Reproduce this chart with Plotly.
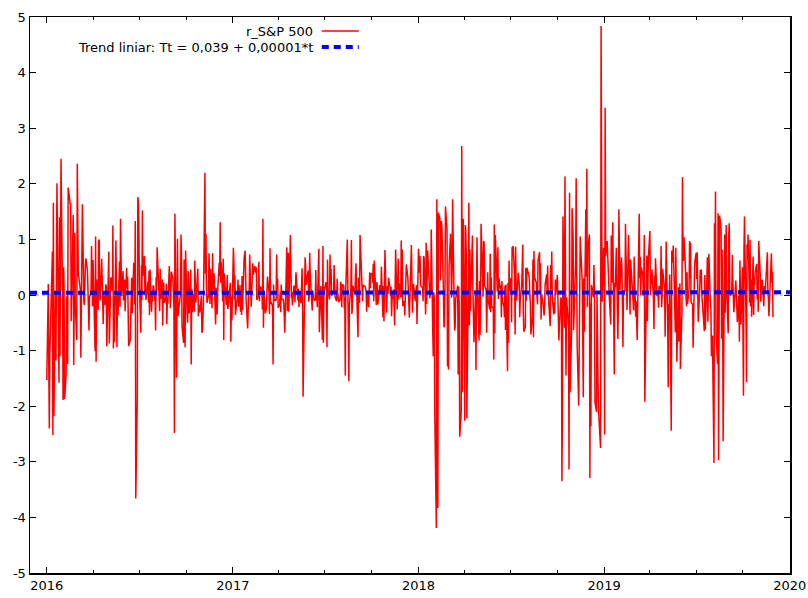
import numpy as np
import pandas as pd
import plotly.graph_objects as go

# ---------------- data (daily log-returns of S&P 500, %) ----------------
months = pd.date_range("2016-01-01", "2019-11-01", freq="MS")

r_2016 = [
    [-1.53, 0.20, -1.32, -2.40, -1.09, 0.09, 0.78, -2.52, 1.66, -2.18, 0.05, -1.18, 0.52, 2.01, -1.58, 1.40, -1.10, 0.55, 2.45],
    [-0.04, -1.89, 0.50, 0.15, -1.87, -1.43, -0.07, -0.02, -1.24, 1.93, 1.64, 1.64, -0.47, 0.00, 1.44, -1.26, 0.44, 1.12, -0.19, -0.81],
    [2.36, 0.41, 0.35, 0.33, 0.09, -1.13, 0.50, 0.02, 1.63, -0.13, -0.18, 0.56, 0.66, 0.44, 0.10, -0.09, -0.64, -0.04, 0.05, 0.88, 0.44, -0.20],
    [0.63, -0.32, -1.01, 1.05, -1.20, 0.28, -0.27, 0.97, 1.00, 0.02, -0.10, 0.65, 0.31, 0.08, -0.52, 0.00, -0.18, 0.19, 0.16, -0.92, -0.51],
    [0.78, -0.87, -0.59, -0.02, 0.32, 0.08, 1.25, -0.96, -0.02, -0.85, 0.98, -0.94, 0.02, -0.37, 0.60, -0.21, 1.37, 0.70, -0.02, 0.43, -0.10],
    [0.11, 0.28, -0.29, 0.49, 0.13, 0.33, -0.17, -0.92, -0.81, -0.18, -0.18, 0.31, -0.33, 0.58, 0.27, -0.17, 1.33, -3.66, -1.83, 1.76, 1.69, 1.35],
    [0.19, -0.68, 0.53, -0.09, 1.52, 0.34, 0.70, 0.01, 0.53, -0.09, 0.24, -0.14, 0.43, -0.36, 0.46, -0.30, 0.03, -0.12, 0.16, 0.16],
    [-0.13, -0.64, 0.32, 0.02, 0.86, -0.09, 0.04, -0.29, 0.47, -0.08, 0.28, -0.55, 0.19, 0.22, -0.14, -0.06, 0.20, -0.52, -0.14, -0.16, 0.52, -0.20, -0.24],
    [0.00, 0.42, 0.30, -0.01, -0.22, -2.48, 1.46, -1.49, -0.06, 1.01, -0.38, 0.00, 0.03, 1.09, 0.65, -0.57, -0.86, 0.64, 0.53, -0.94, 0.80],
    [-0.33, -0.50, 0.43, -0.07, -0.33, 0.46, -1.25, 0.11, -0.31, 0.02, -0.30, 0.62, 0.22, -0.14, -0.01, 0.47, -0.38, -0.17, -0.30, -0.31, -0.01],
    [-0.68, -0.65, -0.44, -0.17, 2.20, 0.38, 1.10, 0.20, -0.14, -0.01, 0.75, -0.16, 0.47, -0.24, 0.75, 0.22, 0.08, 0.39, -0.53, 0.13, -0.27],
    [-0.35, 0.04, 0.58, 0.34, 1.31, 0.22, 0.59, -0.11, 0.65, -0.81, 0.39, -0.18, 0.20, 0.36, -0.25, -0.19, 0.13, 0.22, -0.84, -0.03, -0.46],
]
r_2017 = [
    [0.85, 0.57, -0.08, 0.35, -0.36, 0.00, 0.28, -0.21, 0.18, -0.30, 0.18, -0.36, 0.34, -0.27, 0.66, 0.80, -0.07, -0.09, -0.60, -0.09],
    [0.03, 0.06, 0.73, -0.21, 0.02, 0.07, 0.57, 0.36, 0.52, 0.40, 0.50, -0.09, -0.01, 0.60, -0.11, 0.04, 0.15, 0.10, -0.26],
    [1.37, -0.59, 0.05, -0.33, -0.29, -0.23, 0.08, 0.33, 0.04, -0.34, 0.84, -0.16, -0.13, -0.20, -1.25, 0.19, -0.11, -0.08, -0.10, 0.73, 0.11, 0.29, -0.23],
    [-0.16, 0.06, -0.31, 0.19, -0.08, -0.08, -0.14, -0.38, -0.68, 0.86, -0.29, -0.17, 0.76, -0.30, 1.08, 0.61, -0.05, 0.06, -0.19],
    [0.17, 0.12, -0.13, 0.06, 0.41, 0.00, -0.10, 0.11, -0.22, 0.04, -0.15, 0.48, -0.07, -1.83, 0.37, 0.68, 0.52, 0.18, 0.25, 0.44, -0.12, -0.05],
    [0.76, 0.37, -0.12, -0.28, 0.08, 0.03, -0.08, -0.10, 0.45, -0.10, 0.03, -0.22, 0.83, -0.67, -0.05, -0.03, 0.16, -0.81, 0.88, -0.86, 0.15, 0.10],
    [0.23, 0.15, -0.94, 0.64, 0.09, -0.08, 0.73, 0.19, 0.47, -0.01, 0.06, 0.54, 0.00, -0.04, -0.11, 0.29, 0.03, -0.10, -0.13, -0.07],
    [0.24, 0.05, -0.22, 0.19, 0.17, -0.24, -0.04, -1.45, 0.13, 1.00, -0.05, 0.14, -1.55, -0.18, 0.12, 0.99, -0.34, -0.21, 0.17, 0.05, 0.08, 0.46, 0.57],
    [0.20, -0.76, 0.31, -0.02, -0.15, 1.08, 0.34, 0.08, -0.11, 0.18, 0.15, 0.11, 0.06, -0.30, 0.06, -0.22, 0.01, 0.41, 0.12, 0.37],
    [0.39, 0.22, 0.56, -0.11, 0.62, -0.11, -0.18, 0.23, 0.18, -0.17, 0.09, 0.18, 0.07, 0.08, 0.51, -0.40, 0.16, -0.47, 0.13, 0.81, -0.32, 0.09],
    [0.16, 0.02, 0.31, 0.13, -0.02, 0.15, -0.38, -0.09, 0.10, -0.23, -0.55, 0.82, -0.26, 0.13, 0.65, -0.08, 0.21, -0.04, 0.98, -0.04, 0.82],
    [-0.20, -0.11, -0.37, -0.01, 0.29, 0.55, 0.32, 0.15, -0.05, -0.41, 0.90, 0.54, -0.32, -0.08, 0.20, -0.05, -0.11, 0.08, 0.18, -0.52],
]
r_2018 = [
    [0.83, 0.64, 0.40, 0.70, 0.17, 0.13, -0.11, 0.70, 0.67, -0.35, 0.94, -0.16, 0.44, 0.80, 0.22, -0.06, 0.06, 1.18, -0.67, -1.10, 0.05],
    [-0.07, -2.14, -4.19, 1.72, -0.50, -3.83, 1.48, 1.38, 0.26, 1.33, 1.20, 0.04, -0.58, -0.55, 0.10, 1.59, 1.17, -1.28, -1.12],
    [-1.34, 0.51, 1.10, 0.26, -0.05, 0.45, 1.72, -0.13, -0.64, -0.57, -0.08, 0.17, -1.43, 0.15, -0.18, -2.55, -2.12, 2.68, -1.75, -0.29, 1.37],
    [-2.26, 1.26, 1.15, 0.69, -2.22, 0.33, 1.66, -0.55, 0.82, -0.29, 0.81, 1.07, 0.08, -0.57, -0.85, 0.01, -1.35, 0.18, 1.04, 0.11, -0.82],
    [0.25, -0.72, -0.23, 1.28, 0.35, -0.03, 0.97, 0.94, 0.17, 0.09, -0.68, 0.41, -0.09, -0.26, 0.74, -0.31, 0.32, -0.20, -0.24, -1.16, 1.27, -0.69],
    [1.08, 0.45, 0.07, 0.86, -0.07, 0.31, 0.11, 0.17, -0.40, 0.25, -0.10, -0.21, -0.40, 0.17, -0.63, 0.19, -1.37, 0.22, -0.86, 0.62, 0.08],
    [0.31, -0.49, 0.86, 0.85, 0.88, 0.35, -0.71, 0.87, 0.11, -0.10, 0.40, 0.22, -0.40, -0.09, 0.18, 0.48, 0.91, -0.30, -0.66, -0.58, 0.49],
    [-0.10, 0.49, 0.46, 0.35, 0.28, -0.03, -0.14, -0.71, -0.40, 0.64, -0.76, 0.79, 0.33, 0.24, 0.21, -0.04, -0.17, 0.62, 0.77, 0.03, 0.57, -0.44, 0.01],
    [-0.17, -0.28, -0.37, -0.22, 0.19, 0.37, 0.04, 0.53, 0.03, -0.56, 0.54, 0.13, 0.78, -0.04, -0.35, -0.13, -0.33, 0.28, 0.00],
    [0.36, -0.04, 0.07, -0.82, -0.55, -0.04, -0.14, -3.35, -2.08, 1.41, -0.59, 2.13, -0.03, -1.45, -0.04, -0.43, -0.55, -3.14, 1.84, -1.75, -0.66, 1.56, 1.08],
    [1.05, -0.63, 0.56, 0.62, 2.10, -0.25, -0.92, -1.99, -0.15, -0.76, 1.05, 0.22, -1.68, -1.84, 0.30, -0.66, 1.54, 0.33, 2.27, -0.22, 0.82],
    [1.09, -3.29, -0.15, -2.36, 0.18, -0.04, 0.54, -0.02, -1.93, -2.10, 0.01, -1.55, -1.59, -2.08, -2.75, 4.84, 0.85, -0.12, 0.85],
]
r_2019 = [
    [0.13, -2.51, 3.37, 0.70, 0.97, 0.41, 0.45, -0.01, -0.53, 1.07, 0.22, 0.76, 1.31, -1.43, 0.22, 0.14, 0.85, -0.79, -0.15, 1.54, 0.86],
    [0.09, 0.68, 0.47, -0.22, -0.94, 0.07, 0.07, 1.28, 0.30, -0.27, 1.08, 0.15, 0.18, -0.35, 0.64, 0.12, -0.08, -0.05, -0.28],
    [0.69, -0.39, -0.11, -0.65, -0.81, -0.21, 1.46, 0.30, 0.69, -0.01, 0.50, 0.37, -0.01, 0.30, 1.08, -1.92, -0.08, 0.71, -0.47, 0.36, 0.67],
    [1.15, 0.00, 0.21, 0.21, 0.46, -0.08, -0.61, 0.35, 0.00, 0.66, -0.02, 0.05, -0.23, 0.16, 0.10, 0.88, -0.22, -0.04, 0.47, 0.11, 0.10],
    [-0.75, -0.21, 0.96, -0.45, -1.66, -0.16, -0.30, 0.37, -2.44, 0.80, 0.58, 0.89, -0.58, -0.67, 0.85, -0.28, -1.20, 0.14, -0.84, -0.69, 0.21, -1.33],
    [-0.28, 2.12, 0.81, 0.61, 1.04, 0.46, -0.03, -0.20, 0.41, -0.16, 0.09, 0.97, 0.30, 0.94, -0.13, -0.17, -0.95, -0.12, 0.38, 0.58],
    [0.76, 0.29, 0.77, -0.18, -0.48, 0.12, 0.45, 0.23, 0.46, 0.02, -0.34, -0.65, 0.36, -0.62, 0.28, 0.68, -0.48, 0.44, 0.74, -0.16, -0.26, -1.10],
    [-0.90, -0.73, -3.02, 1.29, 0.08, 1.86, -0.66, -1.24, 1.47, -2.97, 0.25, 1.43, 1.20, -0.79, 0.82, -0.05, -2.63, 1.09, -0.32, 0.65, 1.26, 0.06],
    [-0.69, 1.08, 1.29, 0.09, -0.01, 0.03, 0.72, 0.29, -0.07, -0.31, 0.26, 0.00, 0.00, -0.49, -0.01, -0.84, 0.62, -0.24, -0.53, 0.50],
    [-1.24, -1.81, 0.79, 1.41, -0.45, -1.57, 0.91, 0.64, 1.09, -0.14, 0.99, -0.20, 0.28, -0.39, 0.69, -0.36, 0.28, 0.19, 0.41, 0.56, -0.08, 0.33, -0.30],
    [0.97, 0.37, -0.12, 0.07, 0.27, 0.26, -0.20, 0.16, 0.07, 0.08, 0.77, 0.05, -0.06, -0.38, -0.16, 0.22, 0.75, 0.22, 0.42, -0.40],
]

trend_const = 0.039
trend_slope = 0.00001

series_name = "r_S&P 500"
trend_name = "Trend liniar: Tt = 0,039 + 0,00001*t"

x_range = ["2015-11-29", "2020-01-01 12:00"]
year_ticks = ["2016-01-01", "2017-01-01", "2018-01-01", "2019-01-01", "2020-01-01"]
year_labels = ["2016", "2017", "2018", "2019", "2020"]
y_ticks = [-5, -4, -3, -2, -1, 0, 1, 2, 3, 4, 5]
y_labels = [str(v) for v in y_ticks]

# ---------------- assemble ----------------
monthly = r_2016 + r_2017 + r_2018 + r_2019
dates, values = [], []
for m, vals in zip(months, monthly):
    bd = pd.bdate_range(m, m + pd.offsets.MonthEnd(0))
    idx = np.round(np.linspace(0, len(bd) - 1, len(vals))).astype(int)
    dates.extend(bd[idx])
    values.extend(vals)

n = len(values)
trend_x = [pd.Timestamp(x_range[0]), pd.Timestamp(x_range[1])]
trend_y = [trend_const + trend_slope * 1, trend_const + trend_slope * n]

FONT = "DejaVu Sans"
FS = 13

fig = go.Figure()
fig.add_trace(go.Scatter(x=dates, y=values, mode="lines", name=series_name,
                         line=dict(color="#ff0000", width=1.5), showlegend=False))
fig.add_trace(go.Scatter(x=trend_x, y=trend_y, mode="lines", name=trend_name,
                         line=dict(color="#0000ff", width=4, dash="7px,5px"), showlegend=False))

# gray dotted zero axis
fig.add_shape(type="line", xref="paper", yref="y", x0=0, x1=1, y0=0, y1=0,
              line=dict(color="#a0a0a0", width=1, dash="dot"), layer="below")

# legend (gnuplot style: text left of sample)
leg_x_text = 0.3748
leg_x0, leg_x1 = 0.3839, 0.4326
rows = [(0.9748, series_name, dict(color="#ff0000", width=1.5)),
        (0.9460, trend_name, dict(color="#0000ff", width=4, dash="7px,5px"))]
for yy, txt, ln in rows:
    fig.add_annotation(xref="paper", yref="paper", x=leg_x_text, y=yy, text=txt,
                       showarrow=False, xanchor="right", yanchor="middle",
                       font=dict(family=FONT, size=FS, color="#000000"))
    fig.add_shape(type="line", xref="paper", yref="paper", x0=leg_x0, x1=leg_x1,
                  y0=yy, y1=yy, line=ln)

axis_common = dict(showline=True, linecolor="#000000", linewidth=1.5, mirror="allticks",
                   ticks="inside", tickcolor="#000000", showgrid=False, zeroline=False,
                   automargin=False,
                   tickfont=dict(family=FONT, size=FS, color="#000000"))

fig.update_xaxes(type="date", range=x_range, tickvals=year_ticks, ticktext=year_labels,
                 ticklen=6, tickwidth=1,
                 minor=dict(dtick="M3", tick0="2016-01-01", ticks="inside", ticklen=3,
                            tickcolor="#000000", showgrid=False),
                 **axis_common)
fig.update_yaxes(range=[-5, 5], tickvals=y_ticks, ticktext=y_labels, ticklen=6, tickwidth=1,
                 **axis_common)

fig.update_layout(width=808, height=598, margin=dict(l=30, r=18, t=17, b=25),
                  paper_bgcolor="#ffffff", plot_bgcolor="#ffffff",
                  font=dict(family=FONT, size=FS, color="#000000"), showlegend=False)

fig.write_html("out.html", config={"displayModeBar": False, "staticPlot": True},
               post_script="document.body.style.margin='0';")
